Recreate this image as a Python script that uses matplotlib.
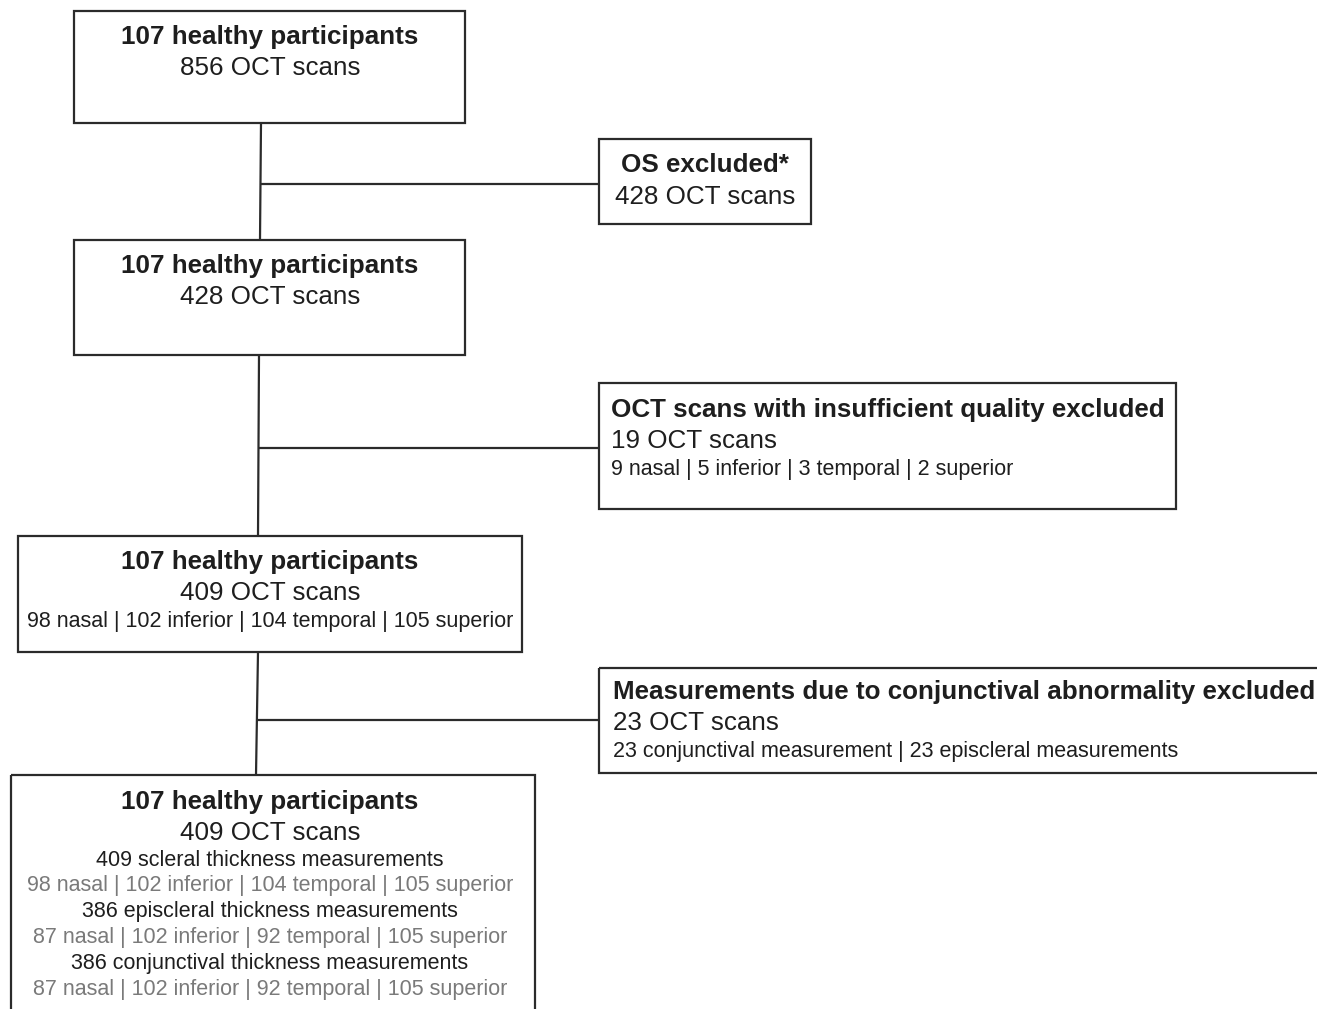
import matplotlib.pyplot as plt
from matplotlib.patches import Rectangle

plt.rcParams['font.family'] = ['Liberation Sans', 'DejaVu Sans']

# Texts of the boxes (title line, scans line, detail lines)
box1_lines = ["107 healthy participants", "856 OCT scans"]
box2_lines = ["OS excluded*", "428 OCT scans"]
box3_lines = ["107 healthy participants", "428 OCT scans"]
box4_lines = ["OCT scans with insufficient quality excluded", "19 OCT scans",
              "9 nasal | 5 inferior | 3 temporal | 2 superior"]
box5_lines = ["107 healthy participants", "409 OCT scans",
              "98 nasal | 102 inferior | 104 temporal | 105 superior"]
box6_lines = ["Measurements due to conjunctival abnormality excluded", "23 OCT scans",
              "23 conjunctival measurement | 23 episcleral measurements"]
box7_lines = ["107 healthy participants", "409 OCT scans",
              "409 scleral thickness measurements",
              "98 nasal | 102 inferior | 104 temporal | 105 superior",
              "386 episcleral thickness measurements",
              "87 nasal | 102 inferior | 92 temporal | 105 superior",
              "386 conjunctival thickness measurements",
              "87 nasal | 102 inferior | 92 temporal | 105 superior"]

DARK = '#1e1e1e'
GREY = '#7a7a7a'
EDGE = '#2b2b2b'
BIG = 18.7
SMALL = 15.5

fig = plt.figure(figsize=(13.17, 10.09), dpi=100)
ax = fig.add_axes([0, 0, 1, 1])
ax.set_xlim(0, 1317)
ax.set_ylim(1009, 0)
ax.axis('off')


def box(x0, y0, x1, y1):
    ax.add_patch(Rectangle((x0, y0), x1 - x0, y1 - y0, fill=False,
                           edgecolor=EDGE, linewidth=1.6, clip_on=False))


def line(xs, ys):
    ax.plot(xs, ys, color=EDGE, linewidth=1.6, solid_capstyle='butt')


def write(x, ys, lines, ha='center', sizes=None, colors=None):
    for i, (y, t) in enumerate(zip(ys, lines)):
        ax.text(x, y, t, ha=ha, va='center',
                fontsize=sizes[i] if sizes else (BIG if i < 2 else SMALL),
                fontweight='bold' if i == 0 else 'normal',
                color=colors[i] if colors else DARK)


# connecting lines
line([261, 260], [123, 240])
line([261, 599], [184, 184])
line([259, 258], [355, 536])
line([259, 599], [448, 448])
line([258, 256], [652, 775])
line([257, 599], [720, 720])

# main column
box(74, 11, 465, 123)
write(270, [37, 68], box1_lines)
box(74, 240, 465, 355)
write(270, [266, 297], box3_lines)
box(18, 536, 522, 652)
write(270, [562, 593, 621], box5_lines)
box(11, 775, 535, 1015)
write(270, [802, 833, 860, 886, 912, 938, 964, 990], box7_lines,
      colors=[DARK, DARK, DARK, GREY, DARK, GREY, DARK, GREY])

# exclusion boxes
box(599, 139, 811, 224)
write(705, [165, 197], box2_lines)
box(599, 383, 1176, 509)
write(611, [410, 441, 469], box4_lines, ha='left')
box(599, 668, 1330, 773)
write(613, [692, 723, 751], box6_lines, ha='left')

fig.savefig('out.png', dpi=100)
